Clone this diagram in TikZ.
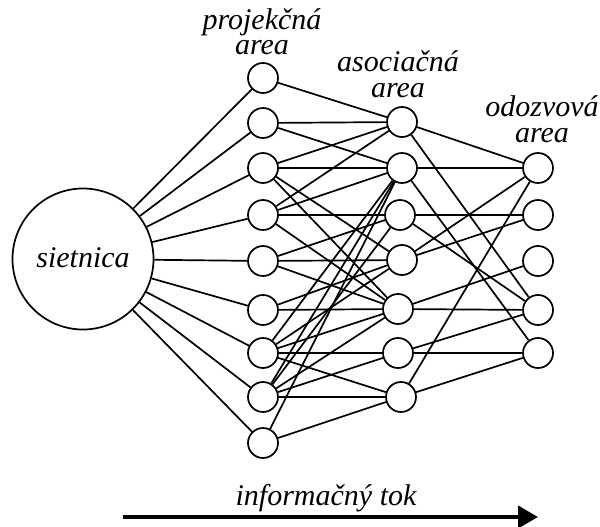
\documentclass[tikz,border=0pt]{standalone}
\usepackage{fontspec}
\setmainfont{Liberation Serif}
\usetikzlibrary{arrows.meta}
\begin{document}
\begin{tikzpicture}[x=1pt,y=-1pt,
  neuron/.style={circle,draw,line width=1.7pt,minimum size=30pt,inner sep=0pt,fill=white},
  link/.style={line width=1.7pt},
  lbl/.style={font=\fontsize{30}{25}\selectfont\itshape,inner sep=0pt,align=center,anchor=base}]
\useasboundingbox (0,0) rectangle (600,527);
% retina
\node[circle,draw,line width=1.7pt,minimum size=141pt,inner sep=0pt] (S) at (83,259) {};
\node[lbl] (St) at (83,267) {sietnica};
% projection
\foreach \i/\y in {1/78,2/123,3/168,4/215,5/261,6/310,7/353,8/397,9/443}
  \node[neuron] (P\i) at (263,\y) {};
% association
\foreach \i/\x/\y in {1/402/122,2/402/168,3/400/215,4/402/260,5/398/309,6/398/353,7/401/397}
  \node[neuron] (A\i) at (\x,\y) {};
% response
\foreach \i/\y in {1/168,2/215,3/261,4/310,5/353}
  \node[neuron] (R\i) at (538,\y) {};
% labels
\node[lbl] (L1) at (262,55) {projekčná\\area};
\node[lbl] (L2) at (398,97) {asociačná\\area};
\node[lbl] (L3) at (542,142) {odozvová\\area};
\node[lbl] (L4) at (326,505) {informačný tok};
\coordinate (F1) at (123,517);
\coordinate (F2) at (538,517);
\draw[line width=4pt,-{Triangle[length=20pt,width=22pt]}] (F1) -- (F2);
\begin{scope}[on background layer/.try]
\foreach \i in {1,...,9} \draw[link] (S) -- (P\i);
\foreach \a/\b in {1/1,2/1,2/2,3/1,3/2,3/4,3/5,4/1,4/2,4/3,4/5,5/3,5/4,5/5,6/4,6/5,7/2,7/4,7/5,7/6,7/7,8/2,8/3,8/5,8/6,8/7,9/2,9/7}
  \draw[link] (P\a) -- (A\b);
\foreach \a/\b in {1/1,1/4,2/1,2/5,3/2,3/4,4/1,4/2,5/3,5/4,6/4,6/5,7/1,7/5}
  \draw[link] (A\a) -- (R\b);
\end{scope}
\end{tikzpicture}
\end{document}
